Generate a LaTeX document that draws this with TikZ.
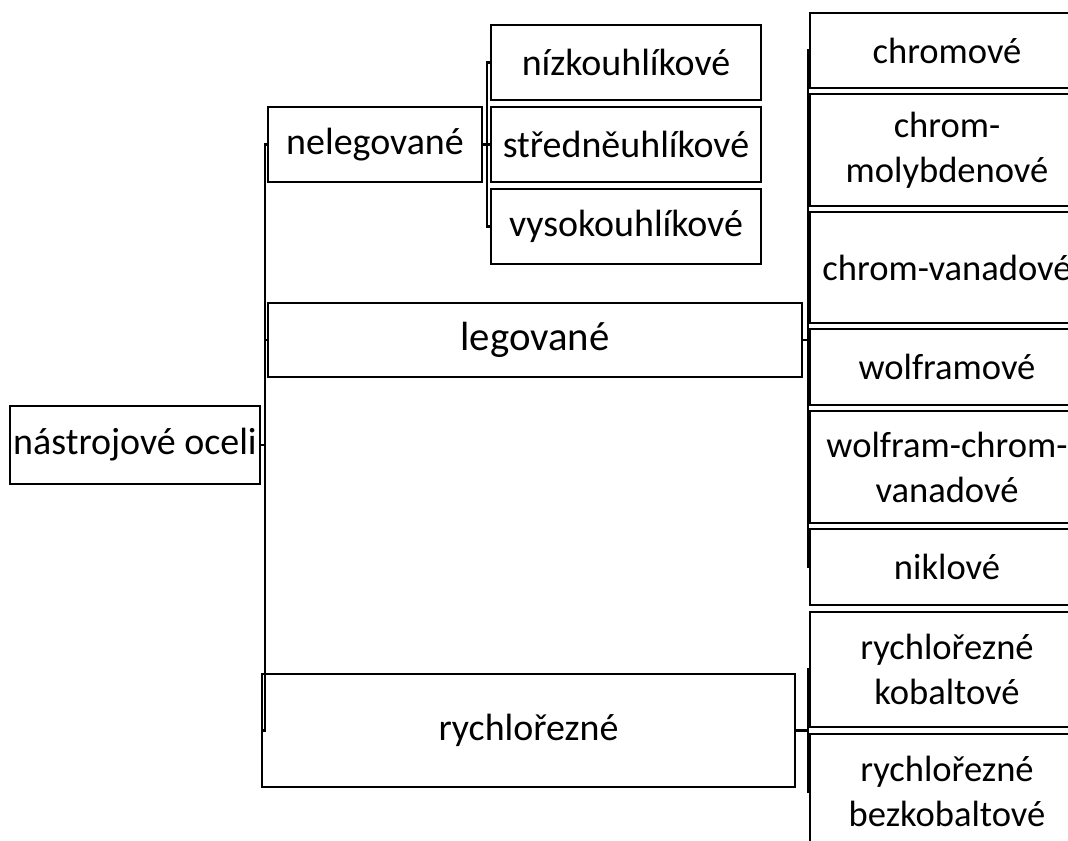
\documentclass[tikz,border=0pt]{standalone}
\usepackage{fontspec}
\setmainfont{Carlito}
\usepackage{tikz}
\usetikzlibrary{positioning}

\begin{document}
\begin{tikzpicture}
[x=0.025cm, y=-0.025cm,
basebox/.style={rectangle, draw=black, line width=1.4pt, inner sep=2pt, align=center, text centered, font=\fontsize{27}{33}\selectfont},
onerow/.style={basebox, minimum height=1.875cm},
midbox/.style={onerow, minimum width=6.75cm},
rightbox/.style={basebox, minimum width=6.85cm, font=\fontsize{26}{32}\selectfont},
link/.style={line width=1.5pt},]

    \useasboundingbox (0,0) rectangle (1068,841);

    \node (root) [basebox, minimum width=6.25cm, minimum height=1.95cm] at (135,445) {nástrojové oceli};
    \node (nel) [onerow, minimum width=5.35cm] at (375,144.5) {nelegované};
    \node (leg) [basebox, minimum width=13.35cm, minimum height=1.85cm, font=\fontsize{29}{34}\selectfont] at (535,340) {legované};
    \node (rych) [basebox, minimum width=13.325cm, minimum height=2.825cm] at (528.5,730.5) {rychlořezné};

    \node (low) [midbox] at (626,62.5) {nízkouhlíkové};
    \node (mid) [midbox] at (626,144.5) {středněuhlíkové};
    \node (high) [midbox] at (626,226.5) {vysokouhlíkové};

    \node (cr) [rightbox, minimum height=1.875cm] at (947,50.5) {chromové};
    \node (crmo) [rightbox, minimum height=2.8cm] at (947,150) {chrom-\\molybdenové};
    \node (crv) [rightbox, minimum height=2.775cm] at (947,267.5) {chrom-vanadové};
    \node (wo) [rightbox, minimum height=1.9cm] at (947,367) {wolframové};
    \node (wocrv) [rightbox, minimum height=2.8cm] at (947,467) {wolfram-chrom-\\vanadové};
    \node (ni) [rightbox, minimum height=1.9cm] at (947,567) {niklové};
    \node (rco) [rightbox, minimum height=2.875cm] at (947,669.5) {rychlořezné\\kobaltové};
    \node (rbez) [rightbox, minimum height=2.875cm] at (947,791.5) {rychlořezné\\bezkobaltové};

    \foreach \kid in {nel, leg, rych}
        \draw[link] (root.east) -- ++(4,0) |- (\kid.west);
    \foreach \kid in {low, mid, high}
        \draw[link] (nel.east) -- ++(4,0) |- (\kid.west);
    \foreach \kid in {cr, crmo, crv, wo, wocrv, ni}
        \draw[link] (leg.east) -- ++(5,0) |- (\kid.west);
    \foreach \kid in {rco, rbez}
        \draw[link] (rych.east) -- ++(12,0) |- (\kid.west);
\end{tikzpicture}
\end{document}
